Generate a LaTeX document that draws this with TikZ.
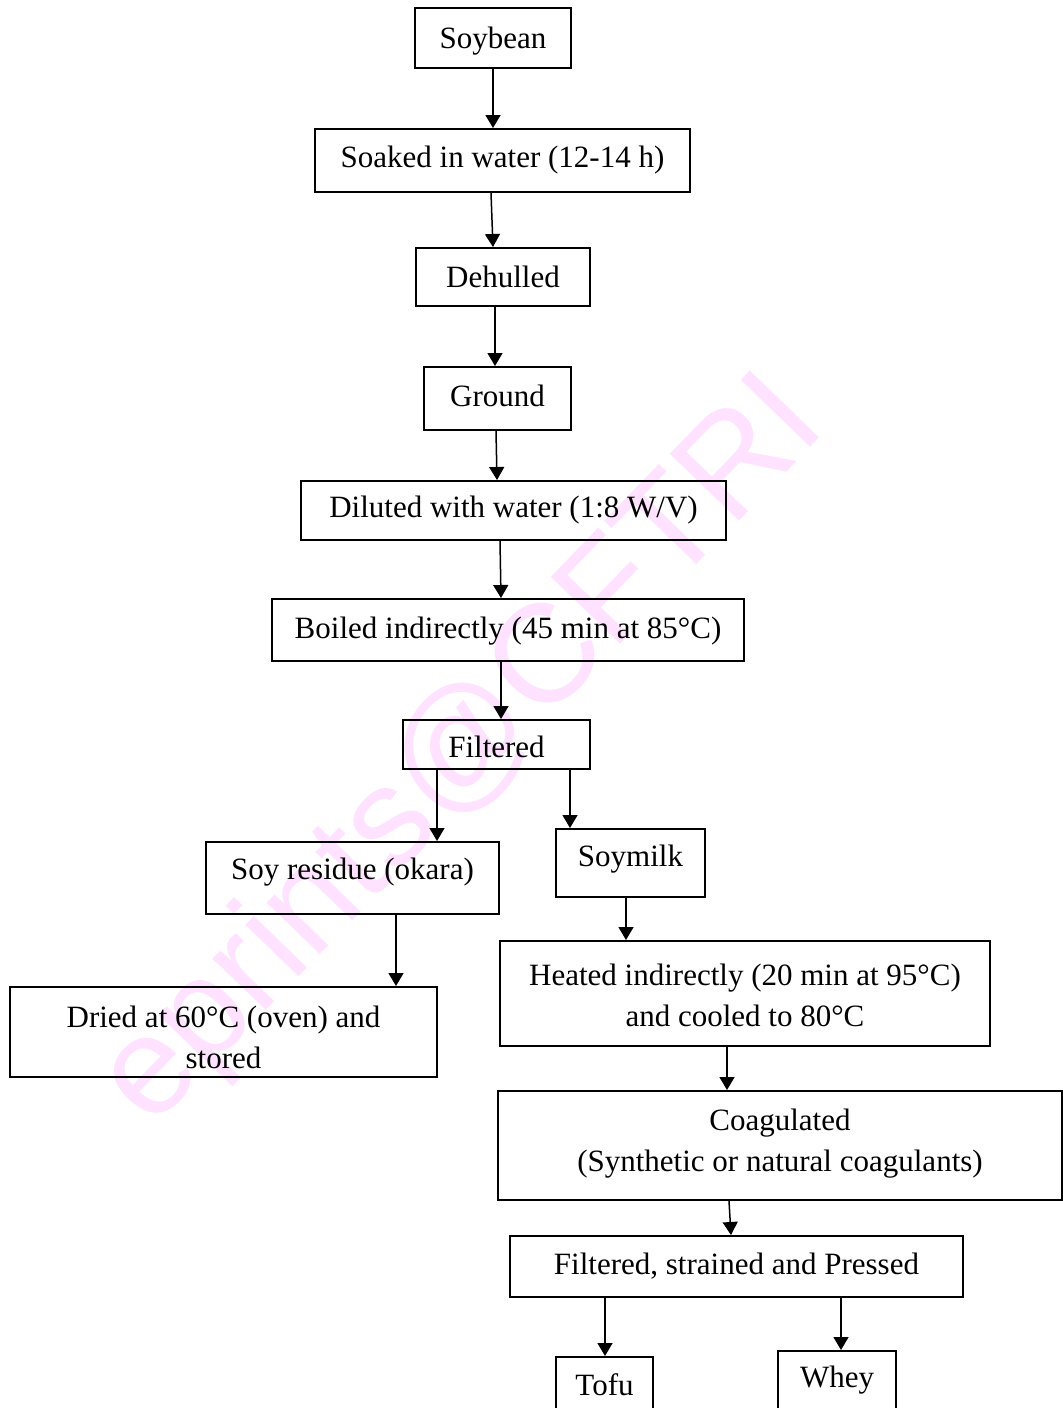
\documentclass[tikz,border=0pt]{standalone}
\usepackage{fontspec}
\setmainfont{Liberation Serif}
\newfontfamily\wmfont{Liberation Sans}
\usetikzlibrary{arrows.meta}
\definecolor{wmpink}{RGB}{255,226,255}
\tikzset{
  boxshape/.style={draw=black, line width=1pt, rectangle, inner sep=0pt},
  txt/.style={inner sep=0pt, align=center, font=\fontsize{15.5pt}{20.5pt}\selectfont},
  arr/.style={line width=0.75pt, -{Triangle[length=6.5pt,width=7.5pt]}},
}
% name, cx, cy, w, h, text dy, text
\newcommand\flowbox[7]{%
  \node[boxshape, minimum width=#4*0.5pt, minimum height=#5*0.5pt] (#1) at (#2,#3) {};
  \node[txt] (#1-t) at ([yshift=-#6*0.5pt]#1.center) {#7};
}
\begin{document}
\begin{tikzpicture}[x=0.5pt,y=-0.5pt]
\useasboundingbox (0,0) rectangle (1063,1408);
\node[rotate=46, anchor=base, inner sep=0pt, text=wmpink,
      font=\fontsize{70pt}{70pt}\selectfont\wmfont] (wm) at (490,779) {eprints@CFTRI};

\flowbox{soy}{493}{38}{156}{60}{3}{Soybean}
\flowbox{soak}{502.5}{160.5}{375}{63}{0}{Soaked in water (12-14 h)}
\flowbox{dehull}{503}{277}{174}{58}{0}{Dehulled}
\flowbox{ground}{497.5}{398.5}{147}{63}{-2.5}{Ground}
\flowbox{dil}{513.5}{510.5}{425}{59}{0}{Diluted with water (1:8 W/V)}
\flowbox{boil}{508}{630}{472}{62}{1.5}{Boiled indirectly (45 min at 85°C)}
\flowbox{filt}{496.5}{744.5}{187}{49}{2.5}{Filtered}
\flowbox{res}{352.5}{878}{293}{72}{-6}{Soy residue (okara)}
\flowbox{milk}{630.5}{863}{149}{68}{-3.5}{Soymilk}
\flowbox{dried}{223.5}{1032}{427}{90}{5}{Dried at 60°C (oven) and\\stored}
\flowbox{heat}{745}{993.5}{490}{105}{1.5}{Heated indirectly (20 min at 95°C)\\and cooled to 80°C}
\flowbox{coag}{780}{1145.5}{564}{109}{-2}{Coagulated\\(Synthetic or natural coagulants)}
\flowbox{press}{736.5}{1266.5}{453}{61}{0}{Filtered, strained and Pressed}
\flowbox{tofu}{604.5}{1386}{97}{58}{-1}{Tofu}
\flowbox{whey}{837}{1381}{118}{60}{-1}{Whey}

\draw[arr] (soy.south -| 493,0) -- (soak.north -| 493,0);
\draw[arr] (soak.south -| 491,0) -- (dehull.north -| 493,0);
\draw[arr] (dehull.south -| 495,0) -- (ground.north -| 495,0);
\draw[arr] (ground.south -| 496,0) -- (dil.north -| 497,0);
\draw[arr] (dil.south -| 500,0) -- (boil.north -| 501,0);
\draw[arr] (boil.south -| 501,0) -- (filt.north -| 501,0);
\draw[arr] (filt.south -| 437,0) -- (res.north -| 437,0);
\draw[arr] (filt.south -| 570,0) -- (milk.north -| 570,0);
\draw[arr] (res.south -| 396,0) -- (dried.north -| 396,0);
\draw[arr] (milk.south -| 626,0) -- (heat.north -| 626,0);
\draw[arr] (heat.south -| 727,0) -- (coag.north -| 727,0);
\draw[arr] (coag.south -| 729,0) -- (press.north -| 731,0);
\draw[arr] (press.south -| 605,0) -- (tofu.north -| 605,0);
\draw[arr] (press.south -| 841,0) -- (whey.north -| 841,0);
\end{tikzpicture}
\end{document}
